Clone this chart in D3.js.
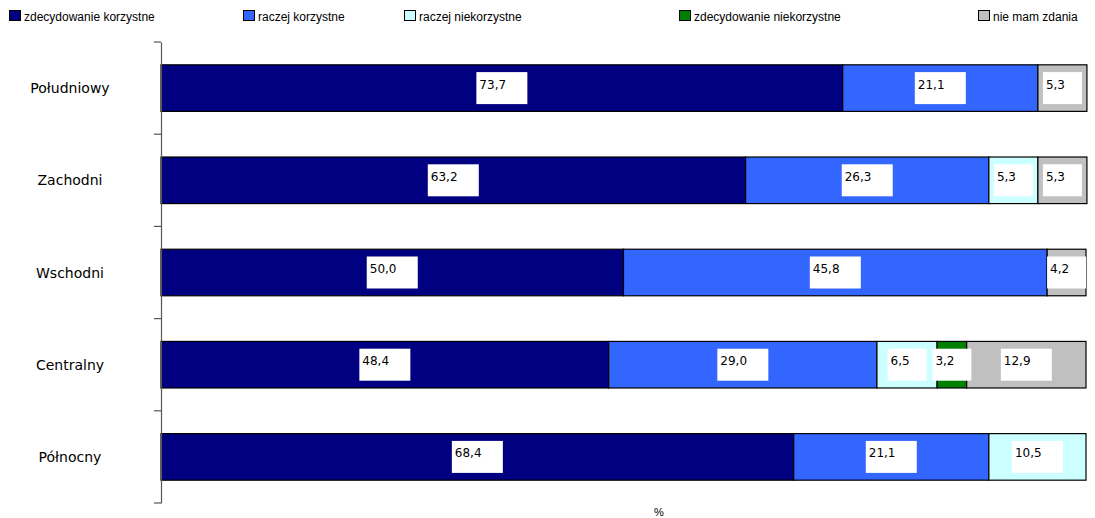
<!DOCTYPE html>
<html>
<head>
<meta charset="utf-8">
<script src="https://cdn.jsdelivr.net/npm/d3@7/dist/d3.min.js"></script>
<style>
  html, body { margin: 0; padding: 0; background: #fff; }
  svg { display: block; }
</style>
</head>
<body>
<svg id="chart" width="1095" height="518"></svg>
<script>
const categories = ["Południowy", "Zachodni", "Wschodni", "Centralny", "Północny"];
const seriesNames = ["zdecydowanie korzystne", "raczej korzystne", "raczej niekorzystne", "zdecydowanie niekorzystne", "nie mam zdania"];
const seriesColors = ["#000080", "#3366FF", "#CCFFFF", "#008000", "#C0C0C0"];
const zdecydowanieKorzystne   = [73.7, 63.2, 50.0, 48.4, 68.4];
const raczejKorzystne         = [21.1, 26.3, 45.8, 29.0, 21.1];
const raczejNiekorzystne      = [0,    5.3,  0,    6.5,  10.5];
const zdecydowanieNiekorzystne= [0,    0,    0,    3.2,  0];
const nieMamZdania            = [5.3,  5.3,  4.2,  12.9, 0];
const axisTitle = "%";

const seriesValues = [zdecydowanieKorzystne, raczejKorzystne, raczejNiekorzystne, zdecydowanieNiekorzystne, nieMamZdania];

(function () {
const svg = d3.select("#chart");
const mLeft = 161, mRight = 1086, mTop = 42, mBottom = 503;

const x = d3.scaleLinear().domain([0, 100]).range([mLeft, mRight]);
const y = d3.scaleBand().domain(categories).range([mTop, mBottom]).paddingInner(0).paddingOuter(0);
const barH = y.bandwidth() * 0.505;

const fmt = v => v.toFixed(1).replace(".", ",");

const rows = categories.map((c, i) => {
  const o = { cat: c };
  seriesNames.forEach((s, j) => o[s] = seriesValues[j][i]);
  return o;
});
const stack = d3.stack().keys(seriesNames)(rows);

const g = svg.append("g");
stack.forEach((layer, j) => {
  g.selectAll(null).data(layer.filter(d => d[1] - d[0] > 0)).enter().append("rect")
    .attr("x", d => x(d[0]))
    .attr("y", d => y(d.data.cat) + (y.bandwidth() - barH) / 2)
    .attr("width", d => x(d[1]) - x(d[0]))
    .attr("height", barH)
    .attr("fill", seriesColors[j])
    .attr("stroke", "#000")
    .attr("stroke-width", 1.2);
});

stack.forEach((layer, j) => {
  layer.filter(d => d[1] - d[0] > 0).forEach(d => {
    const v = d[1] - d[0];
    const t = fmt(v);
    const w = 12 * t.length + 3;
    const cx = (x(d[0]) + x(d[1])) / 2;
    const cy = y(d.data.cat) + y.bandwidth() / 2;
    const bx = cx - w / 2;
    svg.append("rect")
      .attr("x", bx).attr("y", cy - 16)
      .attr("width", w).attr("height", 32)
      .attr("fill", "#fff");
    svg.append("text")
      .attr("x", bx + 3).attr("y", cy + 0.5)
      .attr("font-family", "DejaVu Sans, Verdana, sans-serif")
      .attr("font-size", 12)
      .attr("fill", "#000")
      .text(t);
  });
});

const yAxis = d3.axisLeft(y).tickSize(0).tickFormat("");
const ag = svg.append("g").attr("transform", `translate(${mLeft},0)`).call(yAxis);
ag.select(".domain").attr("stroke", "#555").attr("stroke-width", 1.2);
const boundaries = categories.map(c => y(c)).concat([y(categories[categories.length - 1]) + y.bandwidth()]);
svg.selectAll(".bt").data(boundaries).enter().append("line")
  .attr("x1", mLeft - 7).attr("x2", mLeft)
  .attr("y1", d => d).attr("y2", d => d)
  .attr("stroke", "#555").attr("stroke-width", 1.2);

svg.selectAll(".cat").data(categories).enter().append("text")
  .attr("x", 70)
  .attr("y", d => y(d) + y.bandwidth() / 2 + 5)
  .attr("text-anchor", "middle")
  .attr("font-family", "DejaVu Sans, Verdana, sans-serif")
  .attr("font-size", 14)
  .attr("fill", "#000")
  .text(d => d);

const legendX = [9, 243, 404, 679, 978];
seriesNames.forEach((s, j) => {
  svg.append("rect")
    .attr("x", legendX[j] + 0.5).attr("y", 10.5)
    .attr("width", 11).attr("height", 10)
    .attr("fill", seriesColors[j])
    .attr("stroke", "#000").attr("stroke-width", 1);
  svg.append("text")
    .attr("x", legendX[j] + 15).attr("y", 21)
    .attr("font-family", "Liberation Sans, Arial, sans-serif")
    .attr("font-size", 12)
    .attr("fill", "#000")
    .text(s);
});

svg.append("text")
  .attr("x", 659).attr("y", 516)
  .attr("text-anchor", "middle")
  .attr("font-family", "Liberation Sans, Arial, sans-serif")
  .attr("font-size", 11)
  .attr("fill", "#000")
  .text(axisTitle);
})();
</script>
</body>
</html>
